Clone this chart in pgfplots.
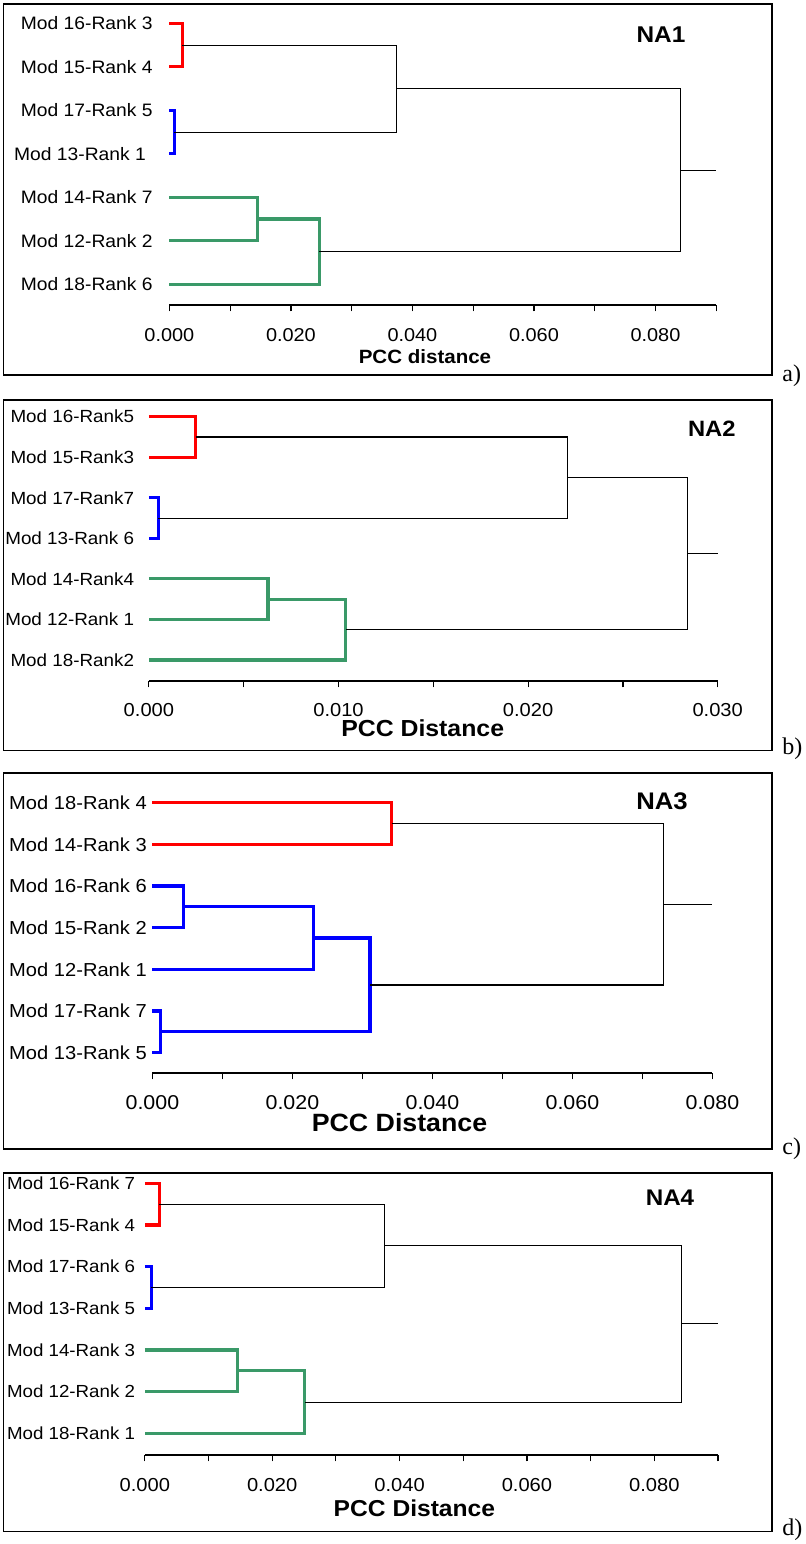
\documentclass[border=0pt]{standalone}
\usepackage{fontspec}
\setmainfont{Liberation Sans}
\newfontfamily\timesfont{Liberation Serif}
\usepackage{pgfplots}
\pgfplotsset{compat=1.18}
\definecolor{cred}{RGB}{255,0,0}
\definecolor{cblue}{RGB}{0,0,255}
\definecolor{cgreen}{RGB}{58,153,104}
\pgfplotsset{
  dendro/.style={
    scale only axis, clip=false, anchor=south west,
    axis lines*=left,
    scaled x ticks=false,
    y axis line style={draw=none}, ytick=\empty,
    ymax=7.5, xmin=0,
    tick align=outside,
    major tick length=3.2pt, minor tick length=3.2pt,
    every tick/.style={black, line width=0.6pt},
    x axis line style={line width=0.7pt},
    xticklabel style={anchor=center, yshift=-11.8pt, xscale=1.07},
  },
  cl/.style={line width=1.6pt, line join=miter},
  bl/.style={black, line width=0.55pt},
}
\tikzset{
  leaf/.style={anchor=east, inner sep=0pt, xscale=1.07},
  ttl/.style={font=\bfseries\fontsize{11.4}{13}\selectfont, xscale=1.07, inner sep=0pt},
  pl/.style={font=\timesfont\fontsize{12}{14}\selectfont, anchor=base west, inner sep=0pt},
}
\begin{document}
\begin{tikzpicture}
\useasboundingbox (0,0) rectangle (402.5pt,772pt);
% frames
\draw[line width=0.8pt] (1.75pt,584.35pt) rectangle (385.85pt,770pt);
\draw[line width=0.8pt] (1.75pt,396.65pt) rectangle (385.85pt,572pt);
\draw[line width=0.8pt] (1.75pt,197.5pt) rectangle (385.85pt,385.35pt);
\draw[line width=0.8pt] (1.75pt,6.15pt) rectangle (385.85pt,185.35pt);
\node[pl] at (391pt,581.15pt) {a)};
\node[pl] at (391pt,394.5pt) {b)};
\node[pl] at (391pt,194.5pt) {c)};
\node[pl] at (391pt,4.5pt) {d)};
\node[ttl] at (330.5pt,754.5pt) {NA1};
\node[ttl, font=\bfseries\fontsize{11.1}{13}\selectfont] at (355.9pt,557.5pt) {NA2};
\node[ttl, font=\bfseries\fontsize{12}{14}\selectfont] at (331pt,371.6pt) {NA3};
\node[ttl, font=\bfseries\fontsize{11.3}{13}\selectfont] at (335pt,173pt) {NA4};

% ---------------- Panel a ----------------
\begin{axis}[dendro, at={(84.7pt,619.5pt)}, width=273.4pt, height=151.7pt,
  xmax=0.09, ymin=0.524,
  xtick={0,0.02,0.04,0.06,0.08}, xticklabels={0.000,0.020,0.040,0.060,0.080},
  minor xtick={0.01,0.03,0.05,0.07,0.09},
  xticklabel style={font=\fontsize{9.3}{11}\selectfont},
  xlabel={PCC distance},
  xlabel style={at={(axis description cs:0.4674,0)}, anchor=center, yshift=-26pt, font=\bfseries\fontsize{9.6}{11}\selectfont, xscale=1.07}]
\addplot[cl, cred] coordinates {(0,7) (0.0021,7) (0.0021,6) (0,6)};
\addplot[cl, cblue] coordinates {(0,5) (0.0008,5) (0.0008,4) (0,4)};
\addplot[bl] coordinates {(0.0021,6.5) (0.0374,6.5) (0.0374,4.5) (0.0008,4.5)};
\addplot[cl, cgreen] coordinates {(0,3) (0.0145,3) (0.0145,2) (0,2)};
\addplot[cl, cgreen] coordinates {(0.0145,2.5) (0.0247,2.5) (0.0247,1) (0,1)};
\addplot[bl] coordinates {(0.0374,5.5) (0.0841,5.5) (0.0841,1.75) (0.0247,1.75)};
\addplot[bl] coordinates {(0.0841,3.625) (0.090,3.625)};
\begin{scope}[every node/.append style={font=\fontsize{9}{11}\selectfont}]
\node[xshift=-8.2pt, leaf] at (axis cs:0,7) {Mod 16-Rank 3};
\node[xshift=-8.2pt, leaf] at (axis cs:0,6) {Mod 15-Rank 4};
\node[xshift=-8.2pt, leaf] at (axis cs:0,5) {Mod 17-Rank 5};
\node[xshift=-11.55pt, leaf] at (axis cs:0,4) {Mod 13-Rank 1};
\node[xshift=-8.2pt, leaf] at (axis cs:0,3) {Mod 14-Rank 7};
\node[xshift=-8.2pt, leaf] at (axis cs:0,2) {Mod 12-Rank 2};
\node[xshift=-8.2pt, leaf] at (axis cs:0,1) {Mod 18-Rank 6};
\end{scope}
\end{axis}

% ---------------- Panel b ----------------
\begin{axis}[dendro, at={(74.45pt,431.5pt)}, width=284.4pt, height=142.3pt,
  xmax=0.03, ymin=0.482,
  xtick={0,0.01,0.02,0.03}, xticklabels={0.000,0.010,0.020,0.030},
  minor xtick={0.005,0.015,0.025},
  xticklabel style={font=\fontsize{9.4}{11}\selectfont, yshift=0.5pt},
  xlabel={PCC Distance},
  xlabel style={at={(axis description cs:0.4814,0)}, anchor=center, yshift=-23.65pt, font=\bfseries\fontsize{11.6}{13}\selectfont, xscale=1.07}]
\addplot[cl, cred] coordinates {(0,7) (0.00246,7) (0.00246,6) (0,6)};
\addplot[cl, cblue] coordinates {(0,5) (0.00049,5) (0.00049,4) (0,4)};
\addplot[bl] coordinates {(0.00246,6.5) (0.0221,6.5) (0.0221,4.5) (0.00049,4.5)};
\addplot[cl, cgreen] coordinates {(0,3) (0.00628,3) (0.00628,2) (0,2)};
\addplot[cl, cgreen] coordinates {(0.00628,2.5) (0.01037,2.5) (0.01037,1) (0,1)};
\addplot[bl] coordinates {(0.0221,5.5) (0.02843,5.5) (0.02843,1.75) (0.01037,1.75)};
\addplot[bl] coordinates {(0.02843,3.625) (0.030,3.625)};
\begin{scope}[every node/.append style={font=\fontsize{8.8}{11}\selectfont}]
\node[xshift=-7.2pt, leaf] at (axis cs:0,7) {Mod 16-Rank5};
\node[xshift=-7.2pt, leaf] at (axis cs:0,6) {Mod 15-Rank3};
\node[xshift=-7.2pt, leaf] at (axis cs:0,5) {Mod 17-Rank7};
\node[xshift=-7.2pt, leaf] at (axis cs:0,4) {Mod 13-Rank 6};
\node[xshift=-7.2pt, leaf] at (axis cs:0,3) {Mod 14-Rank4};
\node[xshift=-7.2pt, leaf] at (axis cs:0,2) {Mod 12-Rank 1};
\node[xshift=-7.2pt, leaf] at (axis cs:0,1) {Mod 18-Rank2};
\end{scope}
\end{axis}

% ---------------- Panel c ----------------
\begin{axis}[dendro, at={(76.2pt,235.5pt)}, width=280pt, height=145.6pt,
  xmax=0.08, ymin=0.513,
  xtick={0,0.02,0.04,0.06,0.08}, xticklabels={0.000,0.020,0.040,0.060,0.080},
  minor xtick={0.01,0.03,0.05,0.07},
  xticklabel style={font=\fontsize{10}{12}\selectfont},
  xlabel={PCC Distance},
  xlabel style={at={(axis description cs:0.4413,0)}, anchor=center, yshift=-25pt, font=\bfseries\fontsize{12.5}{14}\selectfont, xscale=1.07}]
\addplot[cl, cred] coordinates {(0,7) (0.0342,7) (0.0342,6) (0,6)};
\addplot[cl, cblue] coordinates {(0,5) (0.00447,5) (0.00447,4) (0,4)};
\addplot[cl, cblue] coordinates {(0.00447,4.5) (0.0230,4.5) (0.0230,3) (0,3)};
\addplot[cl, cblue] coordinates {(0,2) (0.00117,2) (0.00117,1) (0,1)};
\addplot[cl, cblue] coordinates {(0.0230,3.75) (0.0311,3.75) (0.0311,1.5) (0.00117,1.5)};
\addplot[bl] coordinates {(0.0342,6.5) (0.0730,6.5) (0.0730,2.625) (0.0311,2.625)};
\addplot[bl] coordinates {(0.0730,4.5625) (0.080,4.5625)};
\begin{scope}[every node/.append style={font=\fontsize{9.4}{11}\selectfont}]
\node[xshift=-2.6pt, leaf] at (axis cs:0,7) {Mod 18-Rank 4};
\node[xshift=-2.6pt, leaf] at (axis cs:0,6) {Mod 14-Rank 3};
\node[xshift=-2.6pt, leaf] at (axis cs:0,5) {Mod 16-Rank 6};
\node[xshift=-2.6pt, leaf] at (axis cs:0,4) {Mod 15-Rank 2};
\node[xshift=-2.6pt, leaf] at (axis cs:0,3) {Mod 12-Rank 1};
\node[xshift=-2.6pt, leaf] at (axis cs:0,2) {Mod 17-Rank 7};
\node[xshift=-2.6pt, leaf] at (axis cs:0,1) {Mod 13-Rank 5};
\end{scope}
\end{axis}

% ---------------- Panel d ----------------
\begin{axis}[dendro, at={(72.4pt,44.5pt)}, width=286.6pt, height=146.3pt,
  xmax=0.09, ymin=0.48,
  xtick={0,0.02,0.04,0.06,0.08}, xticklabels={0.000,0.020,0.040,0.060,0.080},
  minor xtick={0.01,0.03,0.05,0.07,0.09},
  xticklabel style={font=\fontsize{9.4}{11}\selectfont},
  xlabel={PCC Distance},
  xlabel style={at={(axis description cs:0.4704,0)}, anchor=center, yshift=-26.5pt, font=\bfseries\fontsize{11.5}{13}\selectfont, xscale=1.07}]
\addplot[cl, cred] coordinates {(0,7) (0.00225,7) (0.00225,6) (0,6)};
\addplot[cl, cblue] coordinates {(0,5) (0.00104,5) (0.00104,4) (0,4)};
\addplot[bl] coordinates {(0.00225,6.5) (0.0376,6.5) (0.0376,4.5) (0.00104,4.5)};
\addplot[cl, cgreen] coordinates {(0,3) (0.01458,3) (0.01458,2) (0,2)};
\addplot[cl, cgreen] coordinates {(0.01458,2.5) (0.02513,2.5) (0.02513,1) (0,1)};
\addplot[bl] coordinates {(0.0376,5.5) (0.0843,5.5) (0.0843,1.75) (0.02513,1.75)};
\addplot[bl] coordinates {(0.0843,3.625) (0.090,3.625)};
\begin{scope}[every node/.append style={font=\fontsize{8.75}{11}\selectfont}]
\node[xshift=-4.65pt, leaf] at (axis cs:0,7) {Mod 16-Rank 7};
\node[xshift=-4.65pt, leaf] at (axis cs:0,6) {Mod 15-Rank 4};
\node[xshift=-4.65pt, leaf] at (axis cs:0,5) {Mod 17-Rank 6};
\node[xshift=-4.65pt, leaf] at (axis cs:0,4) {Mod 13-Rank 5};
\node[xshift=-4.65pt, leaf] at (axis cs:0,3) {Mod 14-Rank 3};
\node[xshift=-4.65pt, leaf] at (axis cs:0,2) {Mod 12-Rank 2};
\node[xshift=-4.65pt, leaf] at (axis cs:0,1) {Mod 18-Rank 1};
\end{scope}
\end{axis}
\end{tikzpicture}
\end{document}
